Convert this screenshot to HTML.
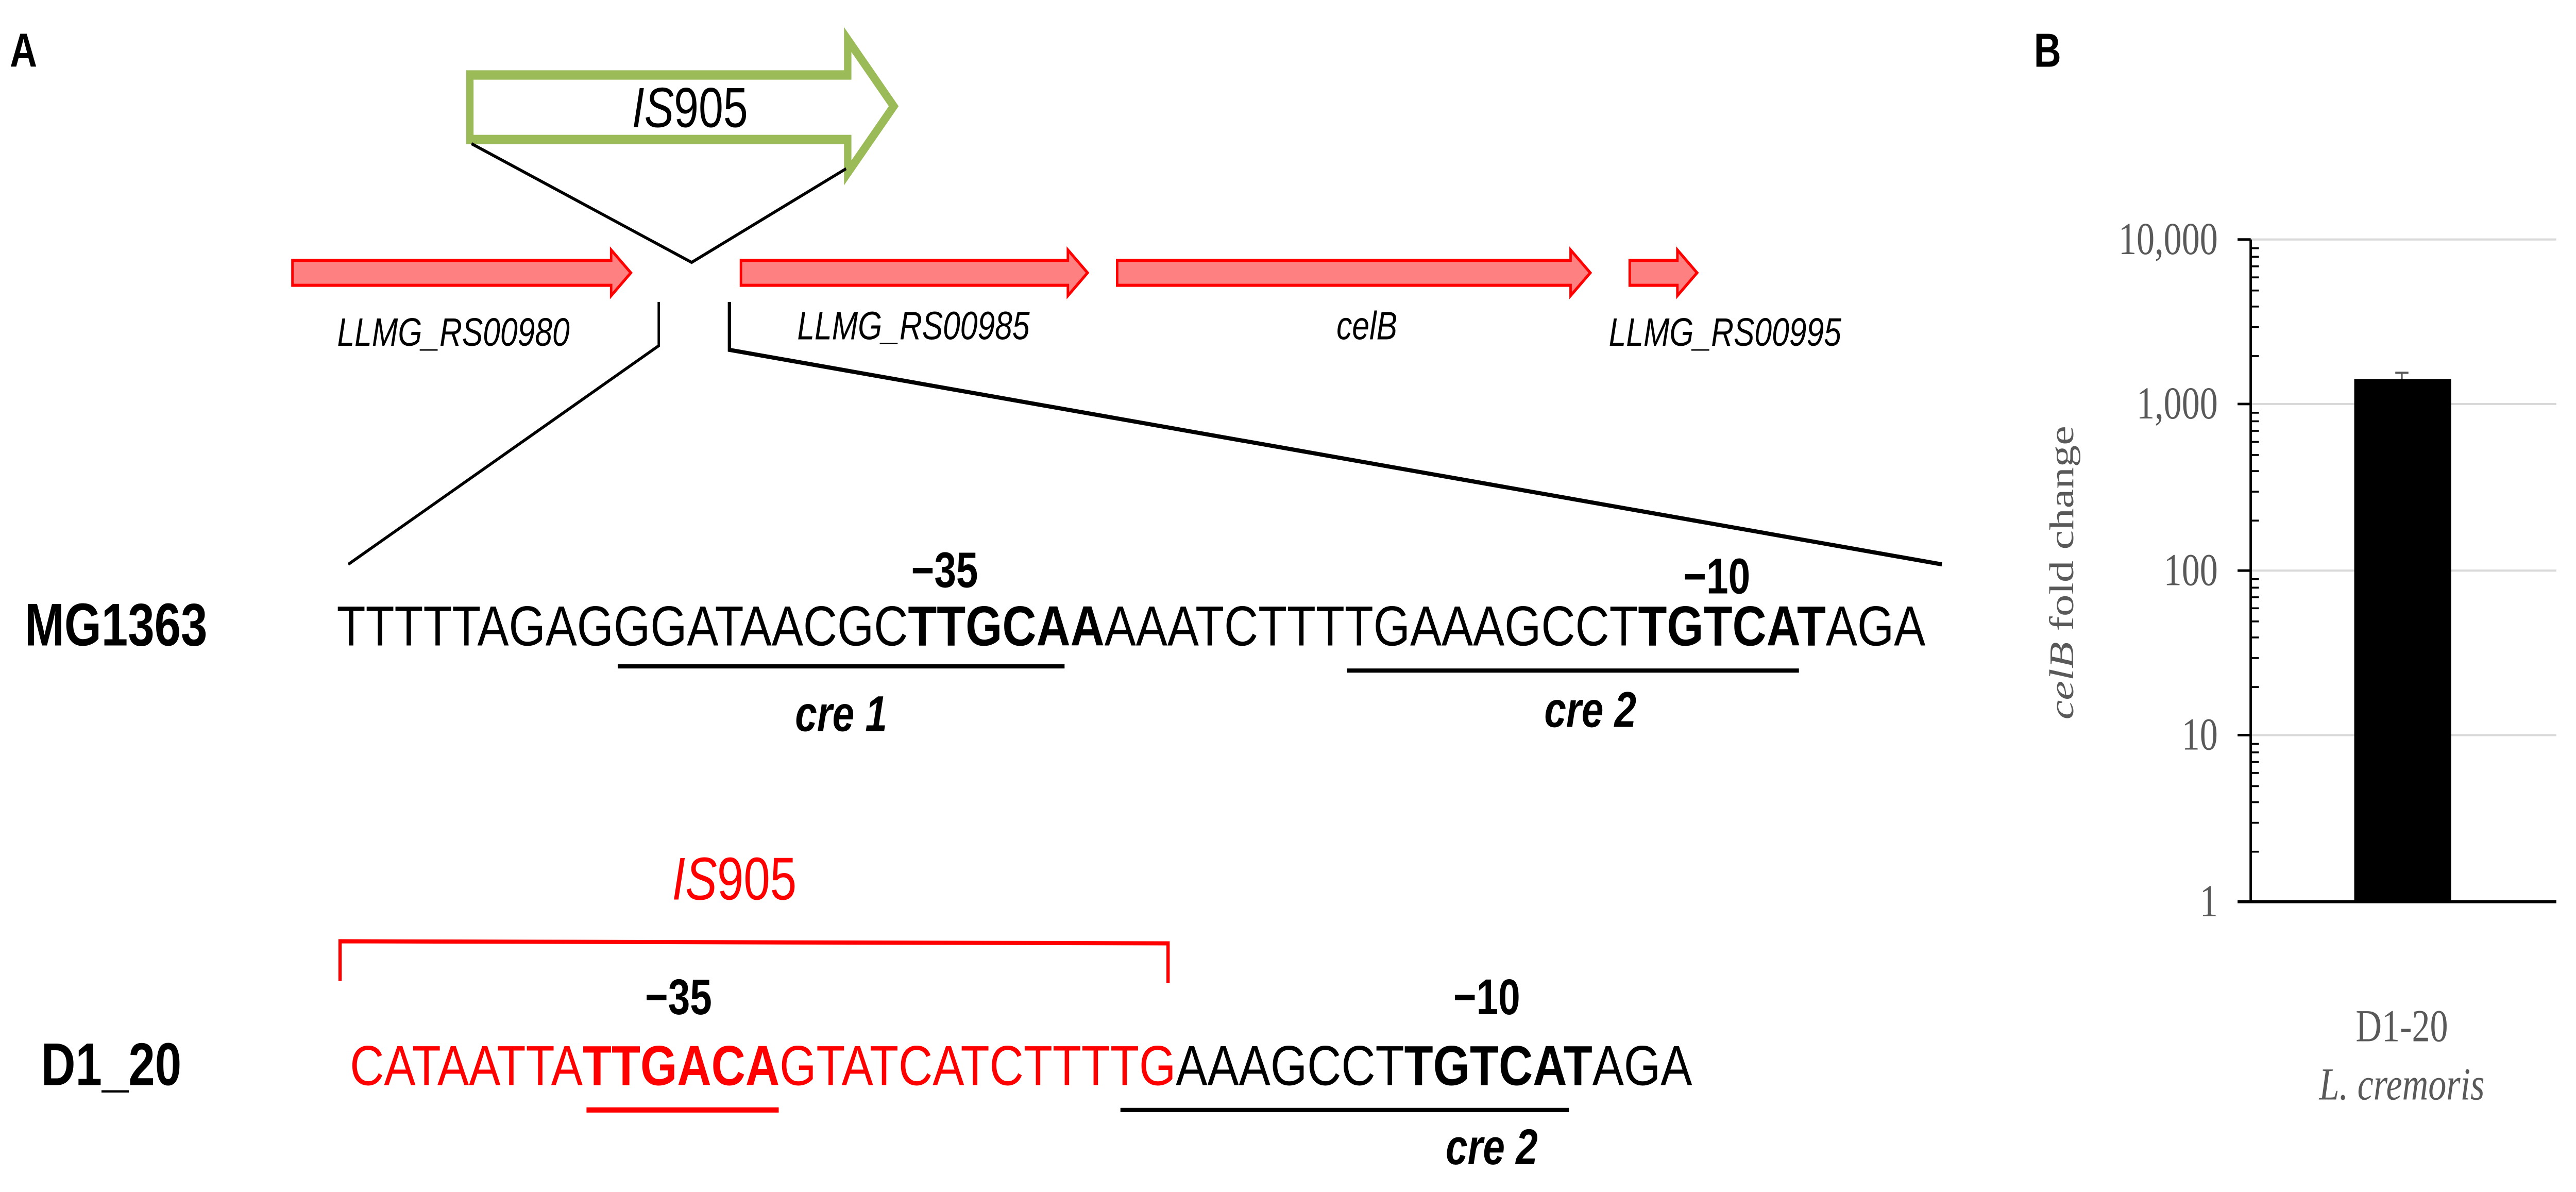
<!DOCTYPE html>
<html><head><meta charset="utf-8"><style>html,body{margin:0;padding:0;background:#fff;overflow:hidden;width:100vw;height:100vh}svg{display:block;width:100vw;height:100vh}</style></head>
<body>
<svg viewBox="0 0 1568 572.4" preserveAspectRatio="none" xmlns="http://www.w3.org/2000/svg" font-family="Liberation Sans, Arial, sans-serif">
<rect width="1568" height="572.4" fill="#fff"/>
<text x="6" y="32" font-size="23" font-weight="bold">A</text>
<text x="1238" y="32" font-size="23" font-weight="bold">B</text>
<polygon points="286,36 516,36 516,19 544,51 516,83 516,67 286,67" fill="#fff" stroke="#9BBB59" stroke-width="4.5"/>
<text x="420" y="61" font-size="27" text-anchor="middle"><tspan font-style="italic">IS</tspan>905</text>
<polyline points="287,69 421,126 515,81" fill="none" stroke="#000" stroke-width="1.5"/>
<g fill="#FF8080" stroke="#FF0000" stroke-width="1.5">
<polygon points="178,125 372,125 372,120 384,131 372,142 372,137 178,137"/>
<polygon points="451,125 650,125 650,120 662,131 650,142 650,137 451,137"/>
<polygon points="680,125 956,125 956,120 968,131 956,142 956,137 680,137"/>
<polygon points="992,125 1021,125 1021,120 1033,131 1021,142 1021,137 992,137"/>
</g>
<g font-size="19" font-style="italic" text-anchor="middle">
<text x="276" y="166">LLMG_RS00980</text>
<text x="556" y="163">LLMG_RS00985</text>
<text x="832" y="163">celB</text>
<text x="1050" y="166">LLMG_RS00995</text>
</g>
<polyline points="401,145 401,166 212,271" fill="none" stroke="#000" stroke-width="1.5"/>
<polyline points="444,145 444,168 1182,271" fill="none" stroke="#000" stroke-width="2"/>
<text x="15" y="310" font-size="29" font-weight="bold">MG1363</text>
<text x="575" y="282" font-size="24" font-weight="bold" text-anchor="middle">−35</text>
<text x="1045" y="285" font-size="24" font-weight="bold" text-anchor="middle">−10</text>
<text x="205" y="310" font-size="27" textLength="967" lengthAdjust="spacingAndGlyphs">TTTTTAGAGGGATAACGC<tspan font-weight="bold">TTGCAA</tspan>AAATCTTTTGAAAGCCT<tspan font-weight="bold">TGTCAT</tspan>AGA</text>
<line x1="376" y1="320" x2="648" y2="320" stroke="#000" stroke-width="2"/>
<line x1="820" y1="322" x2="1095" y2="322" stroke="#000" stroke-width="2"/>
<text x="512" y="351" font-size="24" font-weight="bold" font-style="italic" text-anchor="middle">cre 1</text>
<text x="968" y="349" font-size="24" font-weight="bold" font-style="italic" text-anchor="middle">cre 2</text>
<text x="447" y="432" font-size="29" fill="#FF0000" text-anchor="middle"><tspan font-style="italic">IS</tspan>905</text>
<polyline points="207,471 207,452 711,453 711,472" fill="none" stroke="#FF0000" stroke-width="2"/>
<text x="413" y="487" font-size="24" font-weight="bold" text-anchor="middle">−35</text>
<text x="905" y="487" font-size="24" font-weight="bold" text-anchor="middle">−10</text>
<text x="25" y="521" font-size="29" font-weight="bold">D1_20</text>
<text x="213" y="521" font-size="27" textLength="817" lengthAdjust="spacingAndGlyphs"><tspan fill="#FF0000">CATAATTA</tspan><tspan fill="#FF0000" font-weight="bold">TTGACA</tspan><tspan fill="#FF0000">GTATCATCTTTTG</tspan>AAAGCCT<tspan font-weight="bold">TGTCAT</tspan>AGA</text>
<line x1="357" y1="533" x2="474" y2="533" stroke="#FF0000" stroke-width="2.5"/>
<line x1="682" y1="533" x2="955" y2="533" stroke="#000" stroke-width="2"/>
<text x="908" y="559" font-size="24" font-weight="bold" font-style="italic" text-anchor="middle">cre 2</text>
<g stroke="#D9D9D9" stroke-width="1">
<line x1="1370" y1="115" x2="1556" y2="115"/>
<line x1="1370" y1="194" x2="1556" y2="194"/>
<line x1="1370" y1="274" x2="1556" y2="274"/>
<line x1="1370" y1="353" x2="1556" y2="353"/>
</g>
<rect x="1433" y="182" width="59" height="251" fill="#000"/>
<line x1="1462" y1="179" x2="1462" y2="182" stroke="#595959" stroke-width="1"/>
<line x1="1458" y1="179" x2="1466" y2="179" stroke="#595959" stroke-width="1"/>
<g stroke="#000" stroke-width="1.2">
<line x1="1370" y1="115" x2="1370" y2="433.5" stroke-width="1.5"/>
<line x1="1362" y1="433" x2="1556" y2="433" stroke-width="1.5"/>
<line x1="1362" y1="115" x2="1370" y2="115"/>
<line x1="1362" y1="194" x2="1370" y2="194"/>
<line x1="1362" y1="274" x2="1370" y2="274"/>
<line x1="1362" y1="353" x2="1370" y2="353"/>
</g>
<g stroke="#000" stroke-width="0.9">
<line x1="1370" x2="1375" y1="409.0" y2="409.0"/><line x1="1370" x2="1375" y1="395.1" y2="395.1"/><line x1="1370" x2="1375" y1="385.2" y2="385.2"/><line x1="1370" x2="1375" y1="377.5" y2="377.5"/><line x1="1370" x2="1375" y1="371.2" y2="371.2"/><line x1="1370" x2="1375" y1="365.9" y2="365.9"/><line x1="1370" x2="1375" y1="361.3" y2="361.3"/><line x1="1370" x2="1375" y1="357.2" y2="357.2"/>
<line x1="1370" x2="1375" y1="329.9" y2="329.9"/><line x1="1370" x2="1375" y1="316.0" y2="316.0"/><line x1="1370" x2="1375" y1="306.1" y2="306.1"/><line x1="1370" x2="1375" y1="298.4" y2="298.4"/><line x1="1370" x2="1375" y1="292.1" y2="292.1"/><line x1="1370" x2="1375" y1="286.8" y2="286.8"/><line x1="1370" x2="1375" y1="282.2" y2="282.2"/><line x1="1370" x2="1375" y1="278.1" y2="278.1"/>
<line x1="1370" x2="1375" y1="250.0" y2="250.0"/><line x1="1370" x2="1375" y1="236.1" y2="236.1"/><line x1="1370" x2="1375" y1="226.2" y2="226.2"/><line x1="1370" x2="1375" y1="218.5" y2="218.5"/><line x1="1370" x2="1375" y1="212.2" y2="212.2"/><line x1="1370" x2="1375" y1="206.9" y2="206.9"/><line x1="1370" x2="1375" y1="202.3" y2="202.3"/><line x1="1370" x2="1375" y1="198.2" y2="198.2"/>
<line x1="1370" x2="1375" y1="171.0" y2="171.0"/><line x1="1370" x2="1375" y1="157.1" y2="157.1"/><line x1="1370" x2="1375" y1="147.2" y2="147.2"/><line x1="1370" x2="1375" y1="139.5" y2="139.5"/><line x1="1370" x2="1375" y1="133.2" y2="133.2"/><line x1="1370" x2="1375" y1="127.9" y2="127.9"/><line x1="1370" x2="1375" y1="123.3" y2="123.3"/><line x1="1370" x2="1375" y1="119.2" y2="119.2"/>
</g>
<g font-family="Liberation Serif, serif" font-size="22" fill="#595959" text-anchor="end">
<text x="1350" y="122">10,000</text>
<text x="1350" y="201">1,000</text>
<text x="1350" y="281">100</text>
<text x="1350" y="360">10</text>
<text x="1350" y="440">1</text>
<text x="1462" y="500" text-anchor="middle">D1-20</text>
<text x="1462" y="528" text-anchor="middle" font-style="italic">L. cremoris</text>
<text transform="translate(1262,275) rotate(-90)" text-anchor="middle" font-size="21"><tspan font-style="italic">celB</tspan> fold change</text>
</g>
</svg>
</body></html>
